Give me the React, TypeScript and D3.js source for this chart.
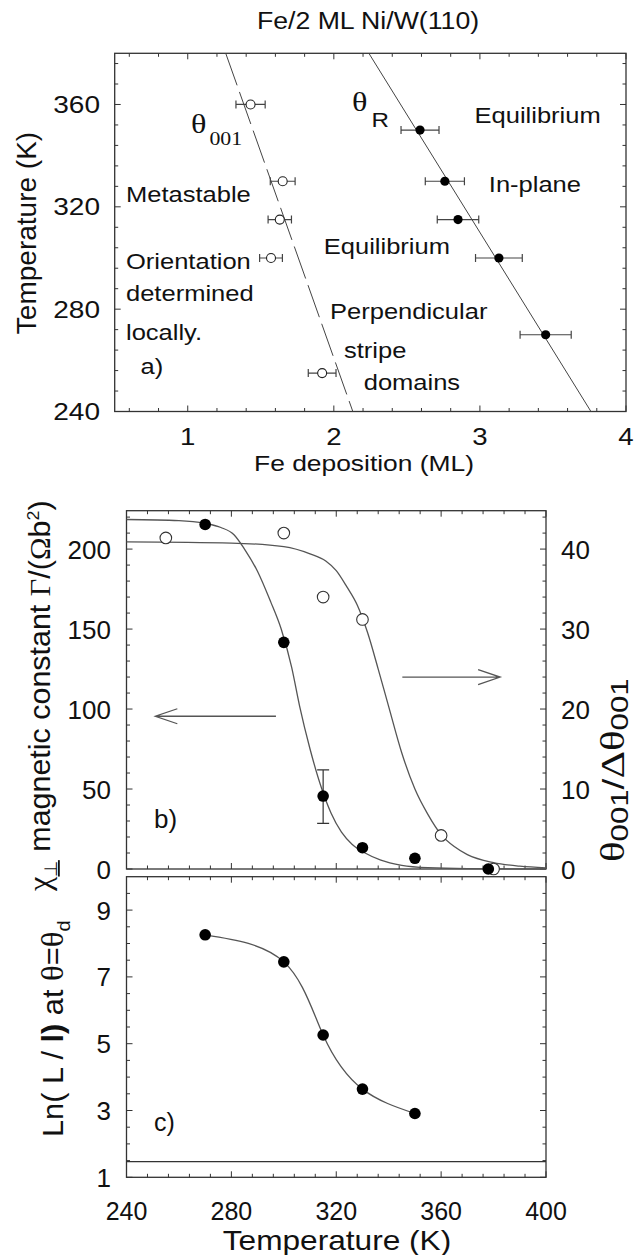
import React from "react";
import * as d3 from "d3";

// ---------- panel a) : Fe deposition vs temperature
const aTempTicks = [240, 280, 320, 360];
const aMlTicks = [1, 2, 3, 4];
// theta_001 (open circles, horizontal error bars)
const openTemp = [360, 330, 315, 300, 255];
const openMl = [1.43, 1.65, 1.63, 1.57, 1.92];
const openErr = [0.1, 0.085, 0.08, 0.078, 0.095];
// theta_R (filled circles)
const fullTemp = [350, 330, 315, 300, 270];
const fullMl = [2.59, 2.76, 2.85, 3.13, 3.45];
const fullErr = [0.13, 0.134, 0.142, 0.16, 0.175];
// guide lines
const theta001Ml = [1.26, 2.13];
const theta001Temp = [380, 240];
const thetaRMl = [2.24, 3.76];
const thetaRTemp = [380, 240];

// ---------- panel b) : chi and theta/dtheta vs temperature
const tTicks = [240, 280, 320, 360, 400];
const chiTicks = [0, 50, 100, 150, 200];
const ratioTicks = [0, 10, 20, 30, 40];
const chiTemp = [270, 300, 315, 330, 350, 378];
const chiVal = [215.4, 141.7, 45.6, 13.3, 6.7, 0];
const chiErrBar = [28.5, 62]; // at 315 K
const ratioTemp = [255, 300, 315, 330, 360, 380];
const ratioVal = [41.4, 42.0, 34.0, 31.2, 4.2, 0];
const chiFitTemp = [240, 260, 270, 276, 281, 285, 290, 295, 299, 303, 306, 310, 314.5, 318, 322, 326, 331, 337, 345, 355, 370, 400];
const chiFitVal = [218.5, 217.8, 216, 213.5, 209, 200, 186, 167, 150, 126, 102, 75, 50, 35, 23, 15.5, 10, 5.5, 2.3, 0.8, 0.2, 0];
const ratioFitTemp = [240, 280, 300, 310, 316, 320, 324, 328, 332, 336, 340, 345, 350, 355, 360, 365, 370, 380, 390, 400];
const ratioFitVal = [40.9, 40.75, 40.3, 39.4, 38.5, 37.3, 35.3, 33, 29.5, 25, 20.3, 14.5, 10, 6.8, 4.3, 2.8, 1.8, 0.8, 0.35, 0.15];

// ---------- panel c) : Ln(L/l) vs temperature
const lnTicks = [1, 3, 5, 7, 9];
const lnTemp = [270, 300, 315, 330, 350];
const lnVal = [8.26, 7.45, 5.26, 3.64, 2.91];
const lnBase = 1.47;

const SANS = "'Liberation Sans', Arial, sans-serif";
const SERIF = "'Liberation Serif', 'Times New Roman', serif";
const INK = "#111";
const GREY = "#555";

const xa = d3.scaleLinear([0.5, 4], [114.7, 626]);
const ya = d3.scaleLinear([240, 380], [411.5, 53.3]);
const xb = d3.scaleLinear([240, 400], [126.5, 546]);
const yb = d3.scaleLinear([0, 224], [869, 510.7]);
const yb2 = d3.scaleLinear([0, 44.8], [869, 510.7]);
const yc = d3.scaleLinear([1, 10], [1177.3, 876.7]);

type Sc = d3.ScaleLinear<number, number>;

function Frame({ x, y, xMajor, xMinor, yMajor, yMinor }: { x: Sc; y: Sc; xMajor: number[]; xMinor: number[]; yMajor: number[]; yMinor: number[] }) {
  const [l, r] = x.range();
  const [b, t] = y.range();
  let d = "";
  const tx = (v: number, len: number) => {
    const p = x(v);
    d += `M${p},${b}v${-len}M${p},${t}v${len}`;
  };
  const ty = (v: number, len: number) => {
    const p = y(v);
    d += `M${l},${p}h${len}M${r},${p}h${-len}`;
  };
  xMajor.forEach((v) => tx(v, 6));
  xMinor.forEach((v) => tx(v, 3.5));
  yMajor.forEach((v) => ty(v, 6));
  yMinor.forEach((v) => ty(v, 3.5));
  return (
    <g>
      <path d={d} stroke="#333" strokeWidth={1} fill="none" />
      <rect x={l} y={t} width={r - l} height={b - t} fill="none" stroke="#333" strokeWidth={1.3} />
    </g>
  );
}

const minors = (a: number, b: number, step: number, majors: number[]) =>
  d3.range(a, b + step / 2, step).filter((v) => !majors.some((m) => Math.abs(m - v) < step / 10));

// text stretched sideways, like the scanned figure
function SText({ x, y, s = 1.16, size = 22, anchor = "start", children }: any) {
  return (
    <text transform={`translate(${x},${y}) scale(${s},1)`} fontSize={size} textAnchor={anchor} fill={INK} fontFamily={SANS}>
      {children}
    </text>
  );
}

function Arrow({ x1, x2, y }: { x1: number; x2: number; y: number }) {
  const dir = Math.sign(x2 - x1);
  return (
    <path
      d={`M${x1},${y}H${x2}M${x2 - dir * 22},${y - 7.5}L${x2},${y}L${x2 - dir * 22},${y + 7.5}`}
      stroke={GREY}
      strokeWidth={1.3}
      fill="none"
    />
  );
}

export default function App() {
  const lineA = d3.line<number>().x((_, i) => xa(theta001Ml[i])).y((_, i) => ya(theta001Temp[i]));
  const lineR = d3.line<number>().x((_, i) => xa(thetaRMl[i])).y((_, i) => ya(thetaRTemp[i]));
  const chiFit = d3.line<number>().x((t) => xb(t)).y((_, i) => yb(chiFitVal[i])).curve(d3.curveMonotoneX);
  const ratioFit = d3.line<number>().x((t) => xb(t)).y((_, i) => yb2(ratioFitVal[i])).curve(d3.curveMonotoneX);
  const lnLine = d3.line<number>().x((t) => xb(t)).y((_, i) => yc(lnVal[i])).curve(d3.curveNatural);

  const hErr = (ml: number, e: number, t: number, key: string) => {
    const y = ya(t);
    const x0 = xa(ml - e), x1 = xa(ml + e);
    return <path key={key} d={`M${x0},${y}H${x1}M${x0},${y - 4}v8M${x1},${y - 4}v8`} stroke="#444" strokeWidth={1.2} fill="none" />;
  };

  return (
    <svg width={637} height={1255} style={{ position: "absolute", left: 0, top: 0, background: "#fff" }} fontFamily={SANS}>
      <rect width={637} height={1255} fill="#fff" />

      {/* ===== panel a ===== */}
      <SText x={368} y={29} size={23} anchor="middle">Fe/2 ML Ni/W(110)</SText>
      <Frame
        x={xa}
        y={ya}
        xMajor={aMlTicks}
        xMinor={minors(0.6, 3.8, 0.2, aMlTicks)}
        yMajor={aTempTicks}
        yMinor={minors(248, 376, 8, aTempTicks)}
      />
      {aTempTicks.map((t) => (
        <SText key={t} x={100} y={ya(t) + 8.5} size={24} s={1.17} anchor="end">{t}</SText>
      ))}
      {aMlTicks.map((m) => (
        <SText key={m} x={xa(m)} y={445} size={23} s={1.2} anchor="middle">{m}</SText>
      ))}
      <SText x={364} y={471} size={22} s={1.2} anchor="middle">Fe deposition (ML)</SText>
      <text transform="translate(36,233) rotate(-90)" fontSize={28} textAnchor="middle" fill={INK}>Temperature (K)</text>

      <path d={lineA(theta001Ml) ?? ""} stroke="#444" strokeWidth={1} fill="none" strokeDasharray="34 7" />
      <path d={lineR(thetaRMl) ?? ""} stroke="#444" strokeWidth={1} fill="none" />
      {openTemp.map((t, i) => hErr(openMl[i], openErr[i], t, "oe" + i))}
      {fullTemp.map((t, i) => hErr(fullMl[i], fullErr[i], t, "fe" + i))}
      {openTemp.map((t, i) => (
        <circle key={"o" + i} cx={xa(openMl[i])} cy={ya(t)} r={4.5} fill="#fff" stroke="#222" strokeWidth={1.1} />
      ))}
      {fullTemp.map((t, i) => (
        <circle key={"f" + i} cx={xa(fullMl[i])} cy={ya(t)} r={4.6} fill="#000" />
      ))}

      <g transform="translate(191,133) scale(1.15,1)" fill={INK}>
        <text fontFamily={SERIF} fontSize={28}>θ</text>
        <text x={16} y={12} fontFamily={SERIF} fontSize={19}>001</text>
      </g>
      <g transform="translate(352,111) scale(1.15,1)" fill={INK}>
        <text fontFamily={SERIF} fontSize={28}>θ</text>
        <text x={17} y={16} fontFamily={SANS} fontSize={21}>R</text>
      </g>
      <SText x={474.5} y={122.6}>Equilibrium</SText>
      <SText x={488.8} y={191.6}>In-plane</SText>
      <SText x={126} y={201.7}>Metastable</SText>
      <SText x={323.8} y={253.8}>Equilibrium</SText>
      <SText x={126} y={269}>Orientation</SText>
      <SText x={126} y={301}>determined</SText>
      <SText x={126} y={339.6}>locally.</SText>
      <SText x={140.5} y={373.5} size={22}>a)</SText>
      <SText x={330} y={319}>Perpendicular</SText>
      <SText x={344} y={358}>stripe</SText>
      <SText x={363.7} y={390}>domains</SText>

      {/* ===== panel b ===== */}
      <Frame
        x={xb}
        y={yb}
        xMajor={tTicks}
        xMinor={minors(248, 392, 8, tTicks)}
        yMajor={chiTicks}
        yMinor={minors(10, 220, 10, chiTicks)}
      />
      {chiTicks.map((v) => (
        <text key={v} x={111} y={yb(v) + 9.5} fontSize={26} textAnchor="end" fill={INK}>{v}</text>
      ))}
      {ratioTicks.map((v) => (
        <text key={v} x={561} y={yb2(v) + 9.5} fontSize={26} fill={INK}>{v}</text>
      ))}
      <path d={chiFit(chiFitTemp) ?? ""} stroke={GREY} strokeWidth={1.3} fill="none" />
      <path d={ratioFit(ratioFitTemp) ?? ""} stroke={GREY} strokeWidth={1.3} fill="none" />
      <path
        d={`M${xb(315)},${yb(chiErrBar[0])}V${yb(chiErrBar[1])}M${xb(315) - 6},${yb(chiErrBar[0])}h12M${xb(315) - 6},${yb(chiErrBar[1])}h12`}
        stroke="#333"
        strokeWidth={1.2}
        fill="none"
      />
      {ratioTemp.map((t, i) => (
        <circle key={"ro" + i} cx={xb(t)} cy={yb2(ratioVal[i])} r={5.8} fill="#fff" stroke="#333" strokeWidth={1.1} />
      ))}
      {chiTemp.map((t, i) => (
        <circle key={"cf" + i} cx={xb(t)} cy={yb(chiVal[i])} r={5.8} fill="#000" />
      ))}
      <Arrow x1={xb(297)} x2={xb(251)} y={yb(95.5)} />
      <Arrow x1={xb(345.2)} x2={xb(382.5)} y={yb2(24)} />
      <text x={154} y={828} fontSize={26} fill={INK}>b)</text>

      <text transform="translate(50,891) rotate(-90) scale(1.05,1)" fontSize={29} fill={INK}>
        <tspan fontFamily={SERIF} fontSize={31}>χ</tspan>
        <tspan fontSize={18} dy={7} textDecoration="underline">⊥</tspan>
        <tspan dy={-7}> magnetic constant </tspan>
        <tspan fontFamily={SERIF}>Γ</tspan>
        <tspan>/(</tspan>
        <tspan fontFamily={SERIF}>Ω</tspan>
        <tspan>b</tspan>
        <tspan fontSize={17} dy={-11}>2</tspan>
        <tspan dy={11}>)</tspan>
      </text>
      <text transform="translate(624,862) rotate(-90) scale(1.3,1)" fontSize={30} fill={INK}>
        <tspan fontFamily={SERIF} fontSize={33}>θ</tspan>
        <tspan fontSize={24} dy={4}>001</tspan>
        <tspan dy={-4}>/</tspan>
        <tspan fontFamily={SERIF} fontSize={33}>Δθ</tspan>
        <tspan fontSize={24} dy={4}>001</tspan>
      </text>

      {/* ===== panel c ===== */}
      <Frame
        x={xb}
        y={yc}
        xMajor={tTicks}
        xMinor={minors(248, 392, 8, tTicks)}
        yMajor={lnTicks}
        yMinor={minors(1.5, 9.5, 0.5, lnTicks)}
      />
      {lnTicks.map((v) => (
        <text key={v} x={111} y={yc(v) + 9.5} fontSize={26} textAnchor="end" fill={INK}>{v}</text>
      ))}
      {tTicks.map((v) => (
        <text key={v} x={xb(v)} y={1220} fontSize={25} textAnchor="middle" fill={INK}>{v}</text>
      ))}
      <SText x={337} y={1250} size={28} s={1.13} anchor="middle">Temperature (K)</SText>
      <line x1={xb(240)} x2={xb(400)} y1={yc(lnBase)} y2={yc(lnBase)} stroke="#333" strokeWidth={1.3} />
      <path d={lnLine(lnTemp) ?? ""} stroke={GREY} strokeWidth={1.3} fill="none" />
      {lnTemp.map((t, i) => (
        <circle key={"ln" + i} cx={xb(t)} cy={yc(lnVal[i])} r={5.8} fill="#000" />
      ))}
      <text x={154} y={1131} fontSize={25} fill={INK}>c)</text>
      <text transform="translate(63,1137) rotate(-90) scale(1.06,1)" fontSize={29} fill={INK}>
        <tspan>Ln( L / </tspan>
        <tspan fontWeight="bold">l)</tspan>
        <tspan> at </tspan>
        <tspan fontFamily={SERIF} fontSize={31}>θ</tspan>
        <tspan>=</tspan>
        <tspan fontFamily={SERIF} fontSize={31}>θ</tspan>
        <tspan fontSize={19} dy={7}>d</tspan>
      </text>
    </svg>
  );
}
